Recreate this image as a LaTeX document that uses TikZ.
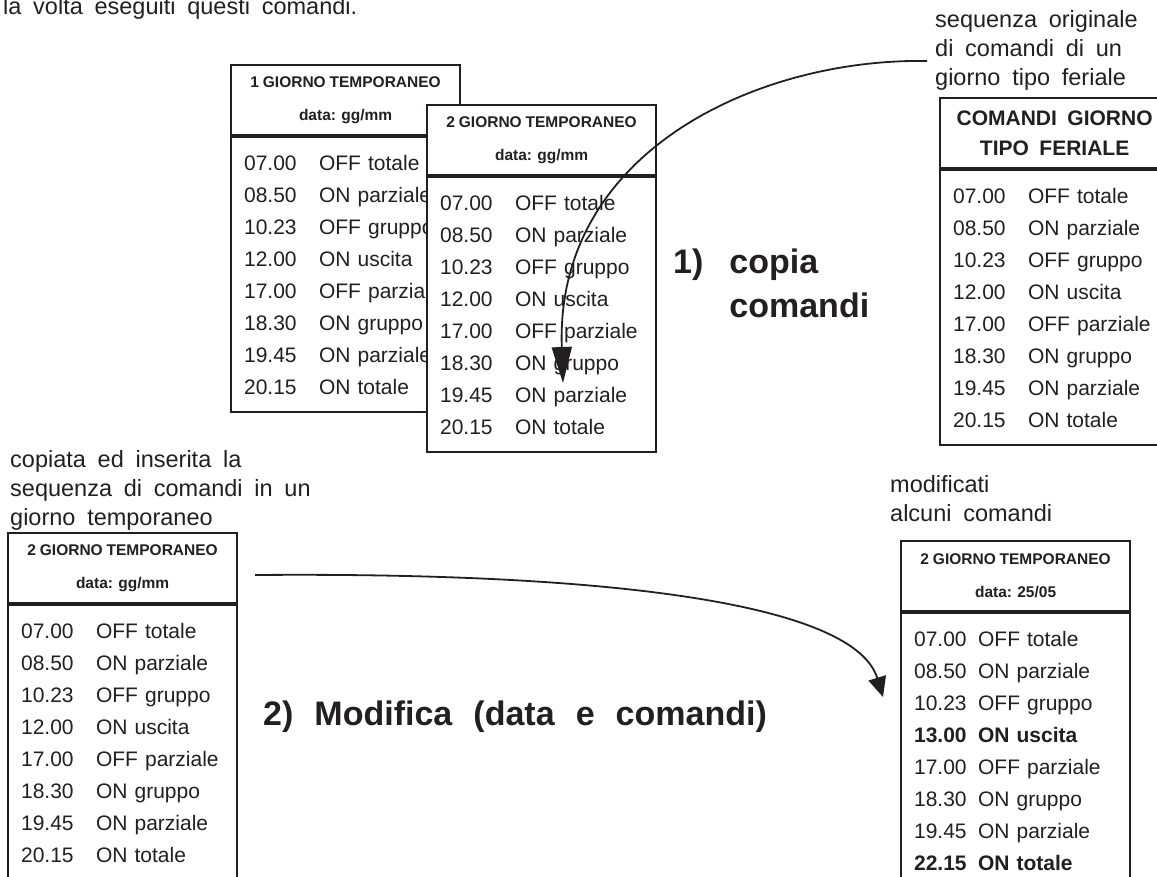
\documentclass[tikz,border=0pt]{standalone}
\usepackage{fontspec}
\setmainfont{Liberation Sans}[WordSpace=1.8]
\usetikzlibrary{positioning,arrows.meta}

\definecolor{ink}{HTML}{231F20}

\newlength{\timecol}
\newcommand{\rowfont}{\fontsize{21}{32}\selectfont}
\newcommand{\lblfont}{\fontsize{23.5}{29}\selectfont}
\newcommand{\hdrfont}{\fontsize{15.5}{33}\selectfont\bfseries\spaceskip=0.25em\relax}
\newcommand{\ferfont}{\fontsize{21}{30}\selectfont\bfseries}
\newcommand{\bigfont}{\fontsize{34}{44}\selectfont\bfseries\spaceskip=0.62em\relax}
\newcommand{\cmdrow}[2]{\makebox[\timecol][l]{#1}#2}
% sequenza standard di un giorno
\newcommand{\stdday}{%
  \cmdrow{07.00}{OFF totale}\\
  \cmdrow{08.50}{ON parziale}\\
  \cmdrow{10.23}{OFF gruppo}\\
  \cmdrow{12.00}{ON uscita}\\
  \cmdrow{17.00}{OFF parziale}\\
  \cmdrow{18.30}{ON gruppo}\\
  \cmdrow{19.45}{ON parziale}\\
  \cmdrow{20.15}{ON totale}}

\begin{document}
\begin{tikzpicture}[
    x=1pt, y=-1pt,
    hdr/.style={draw=ink, line width=2.2pt, fill=white, minimum width=229pt, minimum height=70pt, inner sep=0pt, align=center, font=\hdrfont, text=ink},
    body/.style={draw=ink, line width=2.2pt, fill=white, text width=203pt, inner xsep=13pt, inner ysep=0pt, minimum height=275pt, align=left, font=\rowfont, text=ink, execute at begin node={\setlength{\timecol}{#1}}},
    body/.default=75pt,
    lbl/.style={inner sep=0pt, align=left, font=\lblfont, text=ink, anchor=north west},
    big/.style={inner sep=0pt, font=\bigfont, text=ink},
    arr/.style={draw=ink, line width=1.8pt, -{Triangle[#1]}},
    arr/.default={length=36pt,width=20pt}
]
\useasboundingbox (0,0) rectangle (1157,876);
\clip (0,0) rectangle (1157,876);

\node[lbl, anchor=base west] (intro) at (3,14) {la volta eseguiti questi comandi.};

% giorni temporanei in alto
\node[hdr, anchor=north west] (day1h) at (230,64) {1 GIORNO TEMPORANEO\\data: gg/mm};
\node[body, below=0pt of day1h] (day1b) {\stdday};
\node[hdr, anchor=north west] (day2h) at (426,104) {2 GIORNO TEMPORANEO\\data: gg/mm};
\node[body, below=0pt of day2h] (day2b) {\stdday};

% giorno tipo feriale
\node[lbl] (lblorig) at (935,10) {sequenza originale\\di comandi di un\\giorno tipo feriale};
\node[hdr, anchor=north west, font=\ferfont] (ferh) at (939,97) {COMANDI GIORNO\\TIPO FERIALE};
\node[body, below=0pt of ferh] (ferb) {\stdday};

\node[big, anchor=north west] (stepcopy) at (673,242) {\begin{tabular}{@{}l@{\hspace{26pt}}l@{}}1)&copia\\&comandi\end{tabular}};

% giorno copiato
\node[lbl] (lblcopy) at (10,450) {copiata ed inserita la\\sequenza di comandi in un\\giorno temporaneo};
\node[hdr, anchor=north west] (day3h) at (7,532) {2 GIORNO TEMPORANEO\\data: gg/mm};
\node[body, below=0pt of day3h] (day3b) {\stdday};

% giorno modificato
\node[lbl] (lblmod) at (890,475) {modificati\\alcuni comandi};
\node[hdr, anchor=north west] (day4h) at (900,540) {2 GIORNO TEMPORANEO\\data: 25/05};
\node[body=64pt, below=0pt of day4h] (day4b) {%
  \cmdrow{07.00}{OFF totale}\\
  \cmdrow{08.50}{ON parziale}\\
  \cmdrow{10.23}{OFF gruppo}\\
  \cmdrow{\bfseries 13.00}{\textbf{ON uscita}}\\
  \cmdrow{17.00}{OFF parziale}\\
  \cmdrow{18.30}{ON gruppo}\\
  \cmdrow{19.45}{ON parziale}\\
  \cmdrow{\bfseries 22.15}{\textbf{ON totale}}};

\node[big, anchor=base west] (stepmod) at (263,725) {2) Modifica (data e comandi)};

\coordinate (copyfrom) at (927,61);
\coordinate (copyto) at (563,383);
\coordinate (modfrom) at (255,575);
\coordinate (modto) at (883,697);
\draw[arr] (copyfrom) .. controls (760,58) and (555,150) .. (copyto);
\draw[arr={length=20pt,width=18pt}] (modfrom) .. controls (620,572) and (855,605) .. (modto);
\end{tikzpicture}
\end{document}
